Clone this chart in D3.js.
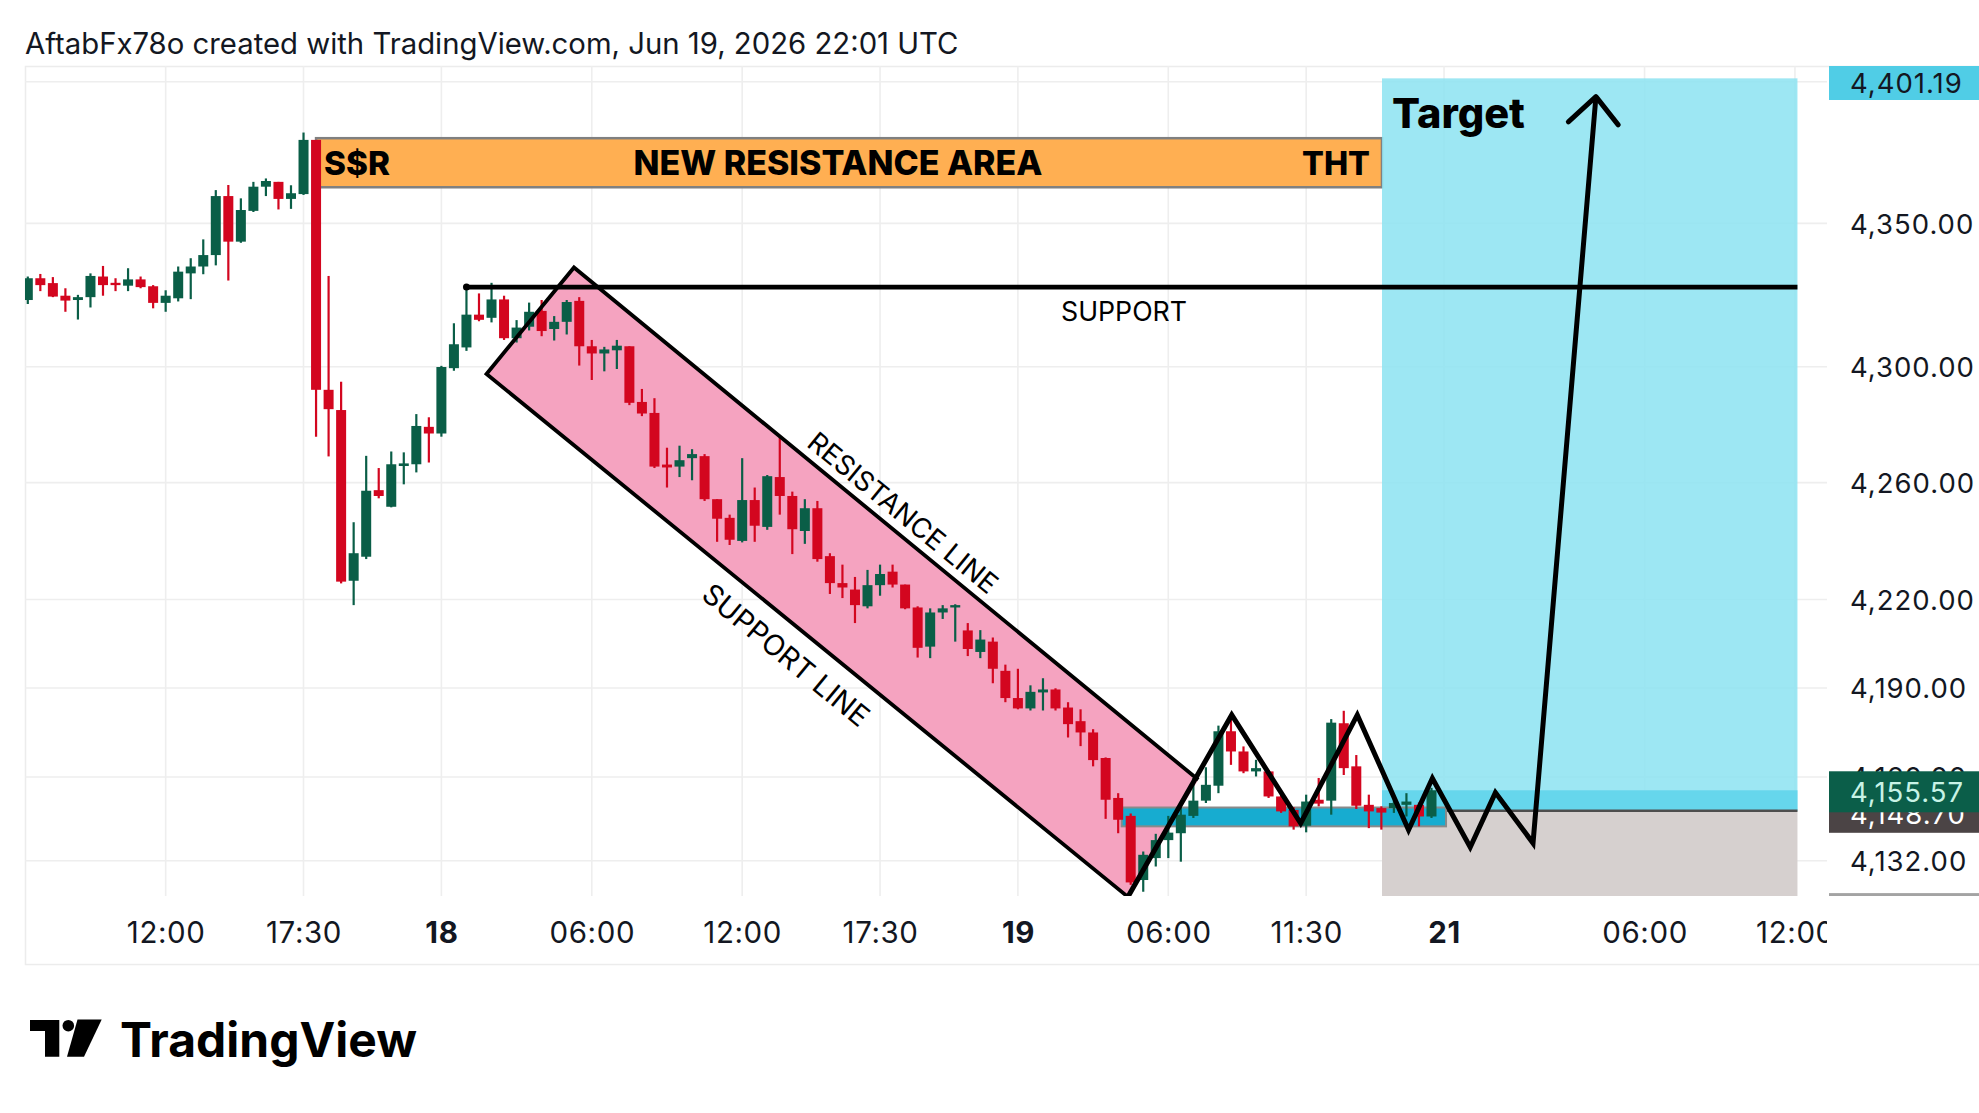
<!DOCTYPE html>
<html>
<head>
<meta charset="utf-8">
<script src="https://cdn.jsdelivr.net/npm/d3@7"></script>
<style>
html,body{margin:0;padding:0;background:#ffffff;}
svg{display:block;}
</style>
</head>
<body>
<svg id="chart" width="1979" height="1113"></svg>
<script>
// ---------------- DATA ----------------
const titleText = "AftabFx78o created with TradingView.com, Jun 19, 2026 22:01 UTC";

// 30-minute bars, index 0 .. 112
const opens = [4323.2,4330.8,4329.1,4324.7,4323.2,4324.2,4331.4,4329.2,4328.2,4330.4,
4328.0,4322.2,4323.8,4332.5,4334.9,4338.9,4359.6,4343.6,4354.4,4362.9,
4364.6,4358.6,4360.3,4379.4,4292.0,4285.0,4226.4,4234.6,4257.4,4251.7,
4265.7,4266.3,4279.2,4276.9,4299.5,4306.7,4318.1,4317.0,4323.4,4309.9,
4313.9,4319.4,4313.1,4315.6,4322.9,4307.1,4304.6,4305.7,4307.1,4287.8,
4284.0,4266.2,4265.5,4268.4,4269.1,4254.3,4247.9,4240.0,4254.0,4244.8,
4261.9,4255.4,4243.4,4251.2,4234.8,4225.6,4223.4,4217.7,4224.9,4229.5,
4225.1,4217.3,4204.0,4215.6,4217.3,4209.5,4202.2,4205.7,4195.8,4186.6,
4183.1,4188.5,4189.5,4183.4,4178.8,4175.0,4166.4,4153.0,4147.0,4125.6,
4132.9,4138.9,4141.2,4147.0,4152.1,4157.1,4175.4,4168.6,4161.9,4161.9,
4153.5,4149.0,4143.7,4152.4,4152.1,4178.1,4163.6,4150.7,4149.6,4149.6,
4150.7,4150.7,4146.8];
const highs = [4331.4,4332.3,4331.2,4327.3,4325.0,4332.5,4335.1,4330.8,4334.3,4331.4,
4328.4,4326.6,4334.9,4337.8,4344.4,4361.7,4363.5,4358.8,4364.6,4365.8,
4364.6,4363.4,4382.0,4379.4,4331.6,4294.8,4246.4,4269.2,4265.0,4270.7,
4270.4,4283.6,4282.5,4300.3,4315.1,4328.0,4325.5,4329.2,4324.7,4316.2,
4322.3,4323.2,4317.6,4323.2,4324.2,4309.3,4306.9,4309.3,4307.1,4292.3,
4289.1,4272.0,4272.7,4271.5,4269.8,4254.3,4249.0,4268.4,4258.3,4262.6,
4275.6,4256.9,4254.3,4253.7,4235.8,4231.9,4227.7,4230.1,4231.9,4231.9,
4225.1,4217.7,4217.0,4218.1,4218.4,4212.0,4209.6,4207.1,4197.9,4196.5,
4190.9,4193.3,4189.9,4185.2,4182.8,4176.1,4166.6,4154.6,4147.8,4135.1,
4141.0,4147.0,4150.0,4159.7,4163.3,4177.3,4179.2,4170.3,4165.8,4162.4,
4154.6,4149.9,4154.1,4159.7,4179.5,4182.3,4167.4,4154.1,4150.2,4153.5,
4154.6,4151.5,4156.4];
const lows = [4321.8,4326.3,4324.2,4319.1,4316.4,4320.6,4324.7,4326.3,4326.3,4327.3,
4320.3,4319.1,4322.7,4323.5,4332.2,4335.3,4330.0,4343.2,4354.0,4359.6,
4354.9,4355.1,4360.0,4275.8,4269.0,4225.5,4218.1,4233.8,4254.6,4251.5,
4259.4,4263.5,4266.9,4275.8,4298.6,4305.5,4315.8,4315.4,4309.3,4308.4,
4312.6,4310.6,4309.1,4311.2,4300.4,4295.4,4298.4,4299.2,4286.7,4282.9,
4265.0,4258.3,4261.9,4260.8,4253.7,4239.7,4238.6,4239.5,4239.7,4243.8,
4249.0,4235.5,4239.0,4232.9,4221.9,4220.5,4212.0,4217.0,4221.3,4224.1,
4216.7,4200.3,4200.1,4213.4,4205.7,4200.8,4200.1,4191.6,4185.2,4182.8,
4182.4,4182.4,4182.4,4173.3,4170.4,4163.6,4146.0,4141.2,4124.0,4121.7,
4130.1,4132.9,4131.7,4146.3,4151.3,4154.6,4164.1,4161.3,4160.2,4153.0,
4148.0,4142.4,4141.5,4150.2,4147.4,4160.7,4149.3,4142.9,4142.4,4148.0,
4146.8,4143.5,4146.3];
const closes = [4330.8,4328.4,4324.4,4323.0,4324.2,4331.6,4328.4,4328.4,4330.4,4327.7,
4322.2,4324.7,4333.1,4334.9,4338.9,4359.6,4343.6,4354.7,4362.9,4364.9,
4358.6,4360.6,4379.4,4292.0,4285.3,4226.1,4235.8,4257.2,4255.4,4266.3,
4266.6,4279.5,4276.9,4299.9,4307.8,4318.1,4316.3,4323.4,4309.9,4313.6,
4319.1,4312.4,4315.6,4322.5,4307.1,4304.6,4306.0,4307.3,4287.5,4283.8,
4265.5,4265.2,4267.7,4269.8,4254.3,4247.6,4240.4,4254.0,4245.2,4262.2,
4255.4,4244.0,4251.2,4233.8,4225.6,4224.1,4218.1,4224.9,4228.7,4225.1,
4217.0,4203.6,4215.6,4217.0,4218.1,4203.2,4206.4,4196.5,4186.6,4183.1,
4188.7,4189.5,4183.1,4177.8,4175.0,4165.7,4152.4,4145.7,4124.8,4134.0,
4138.9,4141.4,4147.4,4152.1,4157.4,4175.4,4168.6,4161.9,4163.0,4153.5,
4148.5,4143.5,4151.8,4151.1,4178.3,4163.0,4150.4,4148.5,4148.1,4151.3,
4151.8,4146.8,4155.57];
const barIndex = d3.range(opens.length);

// time axis (bar index of each label)
const timeTickIndex  = [11, 22, 33, 45, 57, 68, 79, 91, 102, 113, 129, 141];
const timeTickLabels = ["12:00","17:30","18","06:00","12:00","17:30","19","06:00","11:30","21","06:00","12:00"];
const timeTickBold   = [false,false,true,false,false,false,true,false,false,true,false,false];

// price axis: grid levels and the labelled ones (4,400 is hidden by the target label)
const priceGrid = [4400, 4350, 4300, 4260, 4220, 4190, 4160, 4132];
const priceTicks = [4350, 4300, 4260, 4220, 4190, 4160, 4132];

// drawings
const resZoneIdx = [23, 108.05];
const resZonePrice = [4380.0, 4362.7];
const resZoneTexts = ["S$R", "NEW RESISTANCE AREA", "THT"];

const supportPrice = 4327.7;
const supportIdx = [35, 141.2];
const supportLabelIdx = 87.47;

// channel polygon: left, apex, top-right, bottom-right
const channelIdx = [36.6, 43.58, 93.39, 87.78];
const channelPrice = [4297.5, 4334.55, 4159.1, 4120.0];
const channelLabelText = ["RESISTANCE LINE", "SUPPORT LINE"];
const channelLabelIdx = [69.83, 60.5];
const channelLabelPrice = [4249.7, 4201.2];

// entry zone
const entryZoneIdx = [87.28, 113.16];
const entryZonePrice = [4149.8, 4143.5];

// long position tool
const positionIdx = [108.05, 141.2];
const targetPrice = 4401.19;
const entryPrice = 4148.70;
const lastPrice = 4155.57;
const stopPrice = 4115.6;

// projected path
const zigzagIdx = [87.78, 96.06, 101.56, 106.08, 110.17, 112.07, 115.09, 117.10, 120.10, 125.12];
const zigzagPrice = [4120.0, 4180.9, 4144.5, 4180.9, 4142.3, 4159.6, 4136.5, 4154.8, 4137.9, 4394.7];
const arrowIdx = [122.92, 125.12, 126.9];
const arrowPrice = [4385.8, 4394.7, 4384.7];

// ---------------- LAYOUT ----------------
const paneL = 25, paneR = 1827, paneT = 66, paneB = 896;
const FONT = "Inter, 'Noto Sans', sans-serif";
const GREEN = "#0A5E47", RED = "#D3061F";

const x = d3.scaleLinear().domain([0, 141]).range([27.8, 27.8 + 12.533 * 141]);
const y = d3.scaleLog().domain([4132, 4350]).range([860.8, 223.4]);

const svg = d3.select("#chart");
const defs = svg.append("defs");
defs.append("clipPath").attr("id", "paneClip").append("rect")
  .attr("x", paneL).attr("y", paneT).attr("width", paneR - paneL).attr("height", paneB - paneT);
defs.append("clipPath").attr("id", "axisClip").append("rect")
  .attr("x", 1828).attr("y", paneT).attr("width", 151).attr("height", paneB - paneT);
defs.append("clipPath").attr("id", "timeClip").append("rect")
  .attr("x", paneL).attr("y", paneB).attr("width", paneR - paneL).attr("height", 69);

function fit(sel, target) {
  sel.each(function () {
    const n = this.getComputedTextLength();
    if (n > 0) {
      const fs = parseFloat(this.getAttribute("font-size"));
      this.setAttribute("font-size", (fs * target / n).toFixed(2));
    }
  });
}

// title
svg.append("text").attr("x", 25).attr("y", 53.5)
  .attr("font-family", FONT).attr("font-size", 28).attr("fill", "#131722")
  .text(titleText).call(fit, 934);

// frame
svg.append("rect").attr("x", 25.5).attr("y", 66.5).attr("width", 1960).attr("height", 898)
  .attr("fill", "none").attr("stroke", "#ECECEC").attr("stroke-width", 1.5);

const pane = svg.append("g").attr("clip-path", "url(#paneClip)");

// grid
pane.selectAll("line.hgrid").data(priceGrid).join("line").attr("class", "hgrid")
  .attr("x1", paneL).attr("x2", paneR).attr("y1", d => y(d)).attr("y2", d => y(d))
  .attr("stroke", "#EEEEEE").attr("stroke-width", 1.6);
pane.selectAll("line.vgrid").data(timeTickIndex).join("line").attr("class", "vgrid")
  .attr("x1", d => x(d)).attr("x2", d => x(d)).attr("y1", paneT).attr("y2", paneB)
  .attr("stroke", "#EEEEEE").attr("stroke-width", 1.6);

// channel fill
const chPts = channelIdx.map((d, i) => [x(d), y(channelPrice[i])]);
pane.append("polygon").attr("points", chPts.map(p => p.join(",")).join(" "))
  .attr("fill", "#F5A3C0");

// resistance zone
pane.append("rect")
  .attr("x", x(resZoneIdx[0])).attr("width", x(resZoneIdx[1]) - x(resZoneIdx[0]))
  .attr("y", y(resZonePrice[0])).attr("height", y(resZonePrice[1]) - y(resZonePrice[0]))
  .attr("fill", "#FFAF52").attr("stroke", "#808080").attr("stroke-width", 2.5);

// long position tool
const pL = x(positionIdx[0]), pW = x(positionIdx[1]) - x(positionIdx[0]);
pane.append("rect").attr("x", pL).attr("width", pW)
  .attr("y", y(targetPrice)).attr("height", y(entryPrice) - y(targetPrice))
  .attr("fill", "#8DE3F1").attr("fill-opacity", 0.86);
pane.append("rect").attr("x", pL).attr("width", pW)
  .attr("y", y(lastPrice)).attr("height", y(entryPrice) - y(lastPrice))
  .attr("fill", "#66D6EC");
pane.append("rect").attr("x", pL).attr("width", pW)
  .attr("y", y(entryPrice)).attr("height", y(stopPrice) - y(entryPrice))
  .attr("fill", "#D6D0CF");
pane.append("line").attr("x1", pL).attr("x2", pL + pW)
  .attr("y1", y(entryPrice)).attr("y2", y(entryPrice))
  .attr("stroke", "#4E4E4E").attr("stroke-width", 2.5);

// entry zone
pane.append("rect")
  .attr("x", x(entryZoneIdx[0])).attr("width", x(entryZoneIdx[1]) - x(entryZoneIdx[0]))
  .attr("y", y(entryZonePrice[0])).attr("height", y(entryZonePrice[1]) - y(entryZonePrice[0]))
  .attr("fill", "#17ACD0").attr("stroke", "#8A8A8A").attr("stroke-width", 2);

// candles
const cg = pane.append("g");
cg.selectAll("line.wick").data(barIndex).join("line").attr("class", "wick")
  .attr("x1", i => x(i)).attr("x2", i => x(i))
  .attr("y1", i => y(highs[i])).attr("y2", i => y(lows[i]))
  .attr("stroke", i => closes[i] >= opens[i] ? GREEN : RED).attr("stroke-width", 2.2);
cg.selectAll("rect.body").data(barIndex).join("rect").attr("class", "body")
  .attr("x", i => x(i) - 5).attr("width", 10)
  .attr("y", i => y(Math.max(opens[i], closes[i])))
  .attr("height", i => Math.max(2, y(Math.min(opens[i], closes[i])) - y(Math.max(opens[i], closes[i]))))
  .attr("fill", i => closes[i] >= opens[i] ? GREEN : RED);

// channel outline
const ln = d3.line().x(d => d[0]).y(d => d[1]);
pane.append("path").attr("d", ln([chPts[3], chPts[0], chPts[1], chPts[2]]))
  .attr("fill", "none").attr("stroke", "#000").attr("stroke-width", 3.8).attr("stroke-linejoin", "miter");

// support line
pane.append("line").attr("x1", x(supportIdx[0])).attr("x2", x(supportIdx[1]))
  .attr("y1", y(supportPrice)).attr("y2", y(supportPrice))
  .attr("stroke", "#000").attr("stroke-width", 4.8);
pane.append("circle").attr("cx", x(supportIdx[0])).attr("cy", y(supportPrice)).attr("r", 3.5).attr("fill", "#000");

// projected zigzag
const dl = d3.line().x(d => x(d[0])).y(d => y(d[1]));
pane.append("path").attr("d", dl(zigzagIdx.map((d, i) => [d, zigzagPrice[i]])))
  .attr("fill", "none").attr("stroke", "#000").attr("stroke-width", 5)
  .attr("stroke-linejoin", "miter").attr("stroke-miterlimit", 10);
pane.append("path").attr("d", dl(arrowIdx.map((d, i) => [d, arrowPrice[i]])))
  .attr("fill", "none").attr("stroke", "#000").attr("stroke-width", 5)
  .attr("stroke-linecap", "round").attr("stroke-linejoin", "round");

// texts in pane
const zl = x(resZoneIdx[0]), zr = x(resZoneIdx[1]);
const zBase = (y(resZonePrice[0]) + y(resZonePrice[1])) / 2 + 12;
pane.append("text").attr("x", zl + 8).attr("y", zBase).attr("font-family", FONT)
  .attr("font-weight", 800).attr("font-size", 33).attr("fill", "#000").text(resZoneTexts[0]).call(fit, 66);
pane.append("text").attr("x", 838).attr("y", zBase).attr("text-anchor", "middle").attr("font-family", FONT)
  .attr("font-weight", 800).attr("font-size", 33).attr("fill", "#000").text(resZoneTexts[1]).call(fit, 409);
pane.append("text").attr("x", zr - 12).attr("y", zBase).attr("text-anchor", "end").attr("font-family", FONT)
  .attr("font-weight", 800).attr("font-size", 33).attr("fill", "#000").text(resZoneTexts[2]).call(fit, 68);

pane.append("text").attr("x", x(supportLabelIdx)).attr("y", y(supportPrice) + 34)
  .attr("text-anchor", "middle").attr("font-family", FONT).attr("font-size", 24).attr("fill", "#000")
  .text("SUPPORT").call(fit, 126);

const ang = Math.atan2(chPts[2][1] - chPts[1][1], chPts[2][0] - chPts[1][0]) * 180 / Math.PI;
const lengths = [236, 206];
channelLabelText.forEach((t, i) => {
  pane.append("text")
    .attr("transform", `translate(${x(channelLabelIdx[i])},${y(channelLabelPrice[i])}) rotate(${ang})`)
    .attr("text-anchor", "middle").attr("dy", "0.36em")
    .attr("font-family", FONT).attr("font-size", 22).attr("fill", "#000")
    .text(t).call(fit, lengths[i]);
});

pane.append("text").attr("x", pL + 10).attr("y", y(targetPrice) + 50)
  .attr("font-family", FONT).attr("font-weight", 800).attr("font-size", 41).attr("fill", "#000")
  .text("Target").call(fit, 133);

// time axis
const xAxis = d3.axisBottom(x).tickValues(timeTickIndex)
  .tickFormat((d, i) => timeTickLabels[i]).tickSize(0).tickPadding(0);
const xg = svg.append("g").attr("clip-path", "url(#timeClip)")
  .append("g").attr("transform", "translate(0,943)").call(xAxis);
xg.attr("font-size", null).attr("font-family", null);
xg.select(".domain").remove();
xg.selectAll("text").attr("y", 0).attr("dy", 0)
  .attr("font-family", FONT).attr("font-size", 29.5).attr("letter-spacing", 0.6).attr("fill", "#131722")
  .attr("font-weight", (d, i) => timeTickBold[i] ? 700 : 400);

// price axis
const axisArea = svg.append("g").attr("clip-path", "url(#axisClip)");
const yAxis = d3.axisRight(y).tickValues(priceTicks).tickFormat(d3.format(",.2f")).tickSize(0).tickPadding(0);
const yg = axisArea.append("g").attr("transform", "translate(1850,0)").call(yAxis);
yg.attr("font-size", null).attr("font-family", null);
yg.select(".domain").remove();
yg.selectAll("text").attr("x", 0).attr("dy", "0.36em")
  .attr("font-family", FONT).attr("font-size", 27.5).attr("fill", "#131722").attr("letter-spacing", 1);

function priceLabel(price, top, h, bg, fg) {
  axisArea.append("rect").attr("x", 1829).attr("y", top).attr("width", 150).attr("height", h).attr("fill", bg);
  axisArea.append("text").attr("x", 1850).attr("y", top + h / 2).attr("dy", "0.36em")
    .attr("font-family", FONT).attr("font-size", 27.5).attr("letter-spacing", 1).attr("fill", fg)
    .text(d3.format(",.2f")(price));
}
priceLabel(targetPrice, Math.max(paneT, y(targetPrice) - 17), 34, "#50CDE6", "#131722");
priceLabel(stopPrice, y(stopPrice) - 17, 34, "#A3A3A3", "#ffffff");
priceLabel(entryPrice, y(entryPrice) - 16, 38, "#4B4445", "#ffffff");
priceLabel(lastPrice, y(lastPrice) - 19, 41, "#0B5E49", "#C8F3E6");

// TradingView logo
const logo = svg.append("g");
logo.append("path").attr("d", "M30,1020 H59.3 V1056.7 H45 V1031 H30 Z").attr("fill", "#000");
logo.append("circle").attr("cx", 68.3).attr("cy", 1025.7).attr("r", 5.8).attr("fill", "#000");
logo.append("path").attr("d", "M77.5,1019.5 H101.7 L84,1056.7 H67 Z").attr("fill", "#000");
logo.append("text").attr("x", 120).attr("y", 1056.7)
  .attr("font-family", FONT).attr("font-weight", 700).attr("font-size", 50).attr("fill", "#000")
  .text("TradingView").call(fit, 297);
</script>
</body>
</html>
